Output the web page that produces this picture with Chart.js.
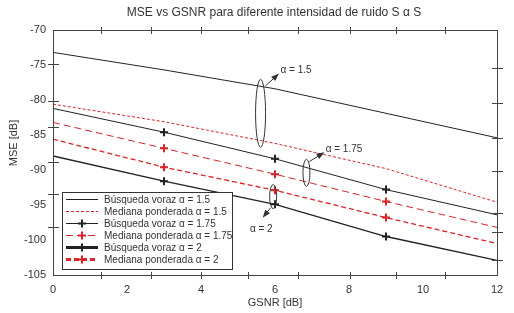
<!DOCTYPE html>
<html>
<head>
<meta charset="utf-8">
<script src="https://cdn.jsdelivr.net/npm/chart.js@4.4.1/dist/chart.umd.min.js"></script>
<style>
  html, body { margin: 0; padding: 0; background: #fff; }
  #wrap { width: 514px; height: 313px; }
</style>
</head>
<body>
<div id="wrap"><canvas id="mseChart" width="514" height="313"></canvas></div>
<script>
// --- Data ---
const gsnr = [0, 3, 6, 9, 12];
const greedy15 = [-73.2, -75.7, -78.4, -81.9, -85.4];
const median15 = [-80.6, -83.1, -86.2, -89.8, -94.6];
const greedy175 = [-81.2, -84.6, -88.4, -92.8, -96.4];
const median175 = [-83.2, -86.9, -90.6, -94.5, -98.2];
const median2 = [-85.6, -89.6, -92.9, -96.8, -100.5];
const greedy2 = [-88.0, -91.6, -94.9, -99.5, -102.9];

const seriesNames = [
    'Búsqueda voraz α = 1.5',
    'Mediana ponderada α = 1.5',
    'Búsqueda voraz α = 1.75',
    'Mediana ponderada α = 1.75',
    'Búsqueda voraz α = 2',
    'Mediana ponderada α = 2'
];

const xTicks = [0, 2, 4, 6, 8, 10, 12];
const yTicks = [-70, -75, -80, -85, -90, -95, -100, -105];

// the original figure has its tick marks off the labelled values
const xMarks = [1.3, 2.66, 4.01, 5.28, 6.61, 8.02, 9.27, 10.6];
const leftMarks = [-74.8, -80.2, -83.9, -88.9, -93.4, -98.2];
const rightMarks = [-75.4, -80.4, -85.4, -90.1, -96.2, -98.9, -102.8];

const BLACK = '#222';
const RED = '#d8252b';
const TEXT = '#333';
const FONT = '"Liberation Sans", Arial, sans-serif';

const marks = [0, 4, 4, 4, 0];
const toXY = vals => vals.map((v, i) => ({ x: gsnr[i], y: v }));

function line(label, vals, color, width, dash, withMarks, legendWidth) {
    return {
        label: label,
        data: toXY(vals),
        borderColor: color,
        backgroundColor: color,
        borderWidth: width,
        borderDash: dash,
        pointStyle: 'cross',
        pointRadius: withMarks ? marks : 0,
        pointBorderWidth: 2,
        pointBorderColor: color,
        pointHoverRadius: 0,
        tension: 0,
        legendWidth: legendWidth
    };
}

const datasets = [
    line(seriesNames[0], greedy15, BLACK, 1, [], false, 1),
    line(seriesNames[1], median15, RED, 1, [3, 2], false, 1),
    line(seriesNames[2], greedy175, BLACK, 1, [], true, 1),
    line(seriesNames[3], median175, RED, 1, [7, 4], true, 1),
    line(seriesNames[4], greedy2, BLACK, 1.3, [], true, 3),
    line(seriesNames[5], median2, RED, 1.3, [5, 3], true, 3)
];

// ellipses + arrows marking each alpha group
const callouts = [
    { label: 'α = 1.5', cx: 5.61, cy: -81.9, rx: 5, ry: 34, from: [5.74, -78.0], to: [6.07, -76.4], at: [6.15, -75.8], align: 'left' },
    { label: 'α = 1.75', cx: 6.85, cy: -90.4, rx: 3.5, ry: 13.5, from: [6.93, -88.8], to: [7.29, -87.6], at: [7.37, -87.0], align: 'left' },
    { label: 'α = 2', cx: 5.95, cy: -93.8, rx: 3.5, ry: 12, from: [5.88, -95.4], to: [5.7, -96.6], at: [5.63, -98.5], align: 'center' }
];

function arrow(ctx, x1, y1, x2, y2) {
    const ang = Math.atan2(y2 - y1, x2 - x1);
    ctx.beginPath();
    ctx.moveTo(x1, y1);
    ctx.lineTo(x2, y2);
    ctx.stroke();
    ctx.beginPath();
    ctx.moveTo(x2 + 2 * Math.cos(ang), y2 + 2 * Math.sin(ang));
    ctx.lineTo(x2 - 6 * Math.cos(ang) + 3 * Math.sin(ang), y2 - 6 * Math.sin(ang) - 3 * Math.cos(ang));
    ctx.lineTo(x2 - 6 * Math.cos(ang) - 3 * Math.sin(ang), y2 - 6 * Math.sin(ang) + 3 * Math.cos(ang));
    ctx.closePath();
    ctx.fill();
}

const overlay = {
    id: 'overlay',
    afterDatasetsDraw(chart) {
        const { ctx, chartArea: a, scales: { x, y } } = chart;
        ctx.save();

        // frame
        ctx.strokeStyle = '#444';
        ctx.lineWidth = 1;
        ctx.setLineDash([]);
        ctx.strokeRect(a.left + 0.5, a.top + 0.5, a.right - a.left, a.bottom - a.top);

        // tick marks
        ctx.beginPath();
        xMarks.forEach(v => {
            const px = Math.round(x.getPixelForValue(v)) + 0.5;
            ctx.moveTo(px, a.top - 3); ctx.lineTo(px, a.top + 4);
            ctx.moveTo(px, a.bottom - 3); ctx.lineTo(px, a.bottom + 4);
        });
        leftMarks.forEach(v => {
            const py = Math.round(y.getPixelForValue(v)) + 0.5;
            ctx.moveTo(a.left - 5, py); ctx.lineTo(a.left + 6, py);
        });
        rightMarks.forEach(v => {
            const py = Math.round(y.getPixelForValue(v)) + 0.5;
            ctx.moveTo(a.right - 5, py); ctx.lineTo(a.right + 6, py);
        });
        ctx.stroke();

        // callouts
        ctx.strokeStyle = '#333';
        ctx.fillStyle = '#333';
        ctx.font = '10px ' + FONT;
        ctx.textBaseline = 'middle';
        callouts.forEach(c => {
            ctx.beginPath();
            ctx.ellipse(x.getPixelForValue(c.cx), y.getPixelForValue(c.cy), c.rx, c.ry, 0, 0, Math.PI * 2);
            ctx.stroke();
            arrow(ctx, x.getPixelForValue(c.from[0]), y.getPixelForValue(c.from[1]),
                x.getPixelForValue(c.to[0]), y.getPixelForValue(c.to[1]));
            ctx.textAlign = c.align;
            ctx.fillText(c.label, x.getPixelForValue(c.at[0]), y.getPixelForValue(c.at[1]));
        });

        // legend box
        const lx = a.left + 9, ly = 192, lw = 170, lh = 77;
        ctx.fillStyle = '#fff';
        ctx.fillRect(lx, ly, lw, lh);
        ctx.strokeStyle = '#333';
        ctx.lineWidth = 1;
        ctx.strokeRect(lx + 0.5, ly + 0.5, lw, lh);
        chart.data.datasets.forEach((ds, i) => {
            const ry = ly + 7.5 + i * 12;
            ctx.strokeStyle = ds.borderColor;
            ctx.lineWidth = ds.legendWidth;
            ctx.setLineDash(ds.borderDash);
            ctx.beginPath();
            ctx.moveTo(lx + 4, ry); ctx.lineTo(lx + 36, ry);
            ctx.stroke();
            ctx.setLineDash([]);
            if (Array.isArray(ds.pointRadius)) {
                ctx.lineWidth = 2;
                ctx.beginPath();
                ctx.moveTo(lx + 20, ry - 4); ctx.lineTo(lx + 20, ry + 4);
                ctx.moveTo(lx + 16, ry); ctx.lineTo(lx + 24, ry);
                ctx.stroke();
            }
            ctx.fillStyle = TEXT;
            ctx.textAlign = 'left';
            ctx.fillText(ds.label, lx + 42, ry + 0.5);
        });

        // title + axis titles
        ctx.fillStyle = TEXT;
        ctx.textAlign = 'center';
        ctx.font = '12px ' + FONT;
        ctx.fillText('MSE vs GSNR para diferente intensidad de ruido S α S', 274, 13);
        ctx.font = '11px ' + FONT;
        ctx.fillText('GSNR [dB]', 275, 303);
        ctx.translate(14, 143);
        ctx.rotate(-Math.PI / 2);
        ctx.fillText('MSE [dB]', 0, 0);
        ctx.restore();
    }
};

const ctx = document.getElementById('mseChart').getContext('2d');
new Chart(ctx, {
    type: 'line',
    data: { datasets: datasets },
    options: {
        responsive: false,
        animation: false,
        devicePixelRatio: 1,
        layout: { padding: { top: 30, right: 17, left: 0, bottom: 0 } },
        plugins: {
            legend: { display: false },
            title: { display: false },
            tooltip: { enabled: false }
        },
        scales: {
            x: {
                type: 'linear',
                min: 0,
                max: 12,
                afterBuildTicks: s => { s.ticks = xTicks.map(v => ({ value: v })); },
                afterFit: s => { s.height = 38; },
                grid: { display: false, drawTicks: false },
                border: { display: false },
                ticks: { color: TEXT, padding: 8, font: { family: FONT, size: 11 }, maxRotation: 0 }
            },
            y: {
                type: 'linear',
                min: -105,
                max: -70,
                afterBuildTicks: s => { s.ticks = yTicks.map(v => ({ value: v })); },
                afterFit: s => { s.width = 53; },
                grid: { display: false, drawTicks: false },
                border: { display: false },
                ticks: { color: TEXT, padding: 7, font: { family: FONT, size: 11 } }
            }
        }
    },
    plugins: [overlay]
});
</script>
</body>
</html>
